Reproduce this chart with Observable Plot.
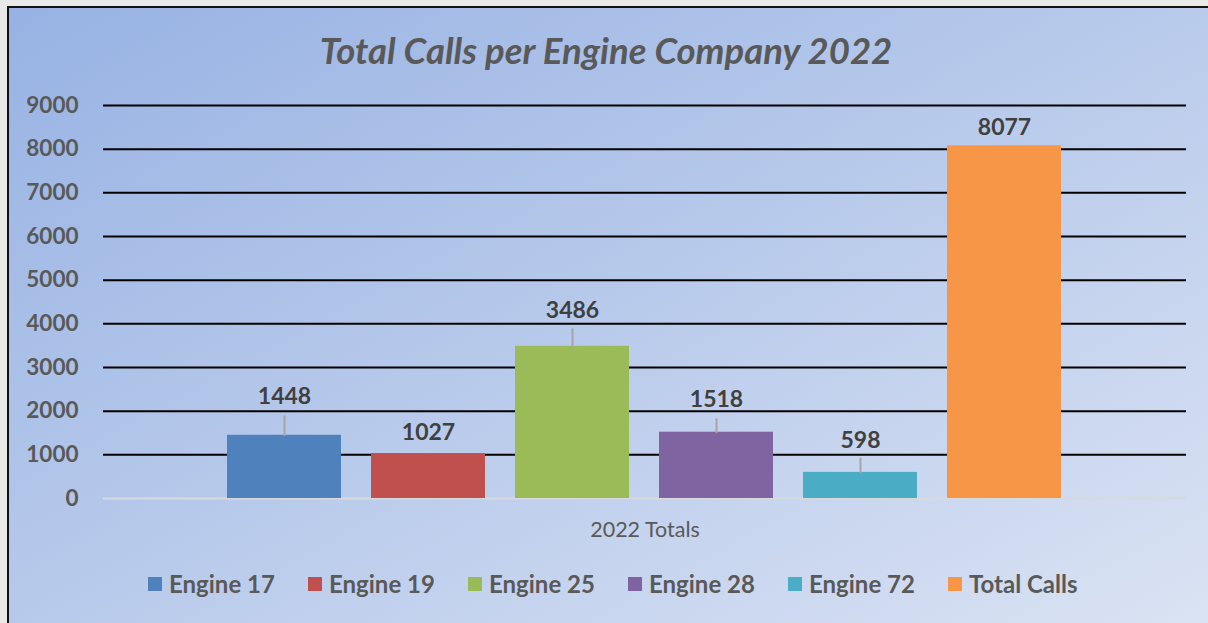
<!DOCTYPE html>
<html>
<head>
<meta charset="utf-8">
<script src="https://cdn.jsdelivr.net/npm/d3@7"></script>
<script src="https://cdn.jsdelivr.net/npm/@observablehq/plot@0.6"></script>
<style>
  html, body { margin: 0; padding: 0; width: 1208px; height: 623px; overflow: hidden;
    background: #e9e9e7; font-family: Lato, "Open Sans", sans-serif; }
  #frame { position: absolute; left: 7px; top: 6px; width: 1300px; height: 700px;
    border-left: 2px solid #111; border-top: 2px solid #111;
    background: linear-gradient(to bottom right, #97b2e3 0%, #bccdec 50%, #e2e8f5 100%); }
  #title { position: absolute; left: 0; width: 1212px; top: 28px; text-align: center;
    font: italic bold 36.5px Lato, sans-serif; color: #595959; line-height: 44px; }
  #chart { position: absolute; left: 0; top: 80px; }
  #legend { position: absolute; left: 148px; top: 569px; display: flex;
    font: bold 24px Lato, sans-serif; color: #595959; line-height: 30px; }
  .item { display: flex; align-items: center; gap: 7px; white-space: nowrap; width: 160px; }
  .sw { width: 14px; height: 14px; display: inline-block; flex: none; }
</style>
</head>
<body>
<div id="frame"></div>
<div id="title"></div>
<div id="chart"></div>
<div id="legend"></div>
<script>
// ---- data ----
const chartTitle = "Total Calls per Engine Company 2022";
const groupLabel = "2022 Totals";
const companies = ["Engine 17", "Engine 19", "Engine 25", "Engine 28", "Engine 72", "Total Calls"];
const calls = [1448, 1027, 3486, 1518, 598, 8077];
const colors = ["#4f81bd", "#c0504d", "#9bbb59", "#8064a2", "#4bacc6", "#f79646"];
const yTicks = [0, 1000, 2000, 3000, 4000, 5000, 6000, 7000, 8000, 9000];

// ---- styling: manual label placement (px above bar top) and leader lengths (px) ----
const labelLift = [39, 21, 36, 33, 32, 18];
const leaderLen = [19, 0, 17, 13, 14, 0];

const rows = companies.map((c, i) => ({
  group: groupLabel, company: c, calls: calls[i], lift: labelLift[i], leader: leaderLen[i]
}));

document.getElementById("title").textContent = chartTitle;

const leaderShape = {
  draw(ctx, l) { ctx.moveTo(0, 0); ctx.lineTo(0, -l); }
};

const chart = Plot.plot({
  width: 1208,
  height: 470,
  marginLeft: 103,
  marginRight: 22,
  marginTop: 25,
  marginBottom: 52,
  style: { background: "transparent", fontFamily: "Lato, sans-serif", overflow: "visible" },
  fx: { padding: 0, axis: null },
  x: { domain: companies, paddingInner: 0.208, paddingOuter: 0.864, axis: null },
  y: { domain: [0, 9000], axis: null },
  color: { domain: companies, range: colors },
  length: { type: "identity" },
  marks: [
    Plot.gridY(yTicks.filter(v => v > 0), { stroke: "#000", strokeOpacity: 1, strokeWidth: 2 }),
    Plot.ruleY([0], { stroke: "#d6d9de", strokeWidth: 2 }),
    Plot.axisY(yTicks, { tickSize: 0, tickPadding: 25, label: null, tickFormat: d => String(d),
      fontSize: 22.5, fontWeight: "bold", fill: "#595959" }),
    Plot.axisFx([groupLabel], { anchor: "bottom", tickSize: 0, tickPadding: 23, label: null,
      fontSize: 21.5, fill: "#595959" }),
    Plot.barY(rows, { fx: "group", x: "company", y: "calls", fill: "company" }),
    Plot.vector(rows.filter(d => d.leader > 0), {
      fx: "group", x: "company", y: "calls", length: "leader", rotate: 0,
      anchor: "start", shape: leaderShape, stroke: "#a5a5a5", strokeWidth: 2
    }),
    ...rows.map(r => Plot.text([r], { fx: "group", x: "company", y: "calls",
      text: d => String(d.calls), dy: -r.lift, fontSize: 23, fontWeight: "bold", fill: "#404040" }))
  ]
});
document.getElementById("chart").appendChild(chart);

// legend
const legend = document.getElementById("legend");
companies.forEach((c, i) => {
  const item = document.createElement("div");
  item.className = "item";
  const sw = document.createElement("span");
  sw.className = "sw";
  sw.style.background = colors[i];
  const tx = document.createElement("span");
  tx.textContent = c;
  item.appendChild(sw);
  item.appendChild(tx);
  legend.appendChild(item);
});
</script>
</body>
</html>
